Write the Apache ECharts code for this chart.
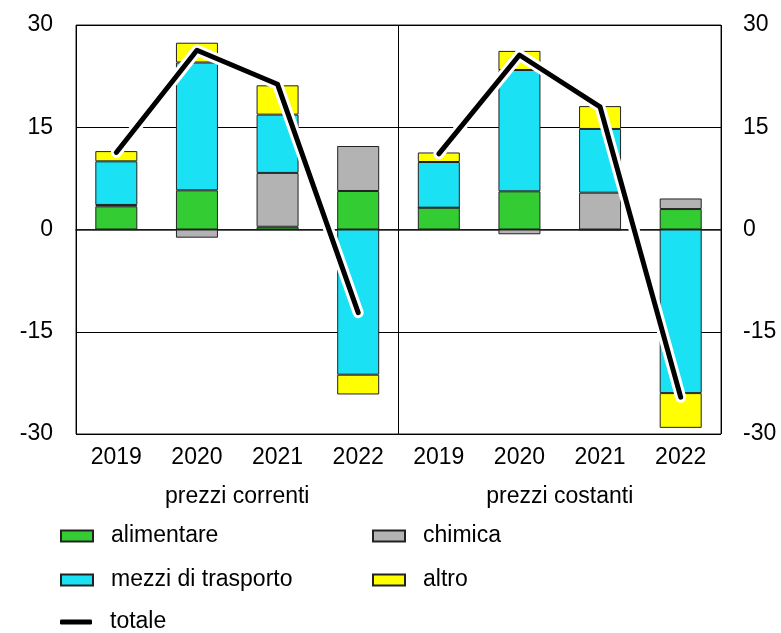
<!DOCTYPE html>
<html>
<head>
<meta charset="utf-8">
<script src="https://cdn.jsdelivr.net/npm/echarts@6/dist/echarts.min.js"></script>
<style>
  html, body { margin: 0; padding: 0; background: #fff; }
  #mainChart { width: 781px; height: 633px; }
</style>
</head>
<body>
<div id="mainChart"></div>
<script>
  // anni per ciascun pannello
  var years = ['2019', '2020', '2021', '2022'];
  var panels = ['prezzi correnti', 'prezzi costanti'];
  var yTicks = [-30, -15, 0, 15, 30];

  // prezzi correnti
  var alimCorrenti = [3.4, 5.75, 0.4, 5.65];
  var chimCorrenti = [0.2, -1.2, 7.9, 6.6];
  var mezziCorrenti = [6.4, 18.75, 8.55, -21.3];
  var altroCorrenti = [1.5, 2.9, 4.3, -2.9];
  var totCorrenti = [11.3, 26.3, 21.3, -12.2];

  // prezzi costanti
  var alimCostanti = [3.2, 5.6, -0.1, 3.0];
  var chimCostanti = [0, -0.7, 5.4, 1.55];
  var mezziCostanti = [6.7, 17.8, 9.35, -24.0];
  var altroCostanti = [1.4, 2.8, 3.35, -5.1];
  var totCostanti = [11.1, 25.6, 18.0, -24.6];

  var font = 'Liberation Sans, Arial, sans-serif';
  var fs = 23;
  var gap = ['-', '-', '-', '-'];
  var legendText = { fontFamily: font, fontSize: fs, color: '#000', lineHeight: 24, padding: [0, 0, 0, 13] };

  function barSeries(name, color, a, b) {
    return {
      name: name,
      type: 'bar',
      stack: 'tot',
      barWidth: 42,
      itemStyle: { color: color, borderColor: '#222', borderWidth: 1 },
      data: a.concat(b)
    };
  }

  function lineSeries(name, color, width, data) {
    return {
      name: name,
      type: 'line',
      symbol: 'none',
      silent: true,
      lineStyle: { color: color, width: width, cap: 'round', join: 'round' },
      itemStyle: { color: color },
      data: data
    };
  }

  var options = {
    animation: false,
    grid: { left: 76, right: 60, top: 25, height: 409, show: true, borderColor: '#222', borderWidth: 1 },
    legend: [{
      orient: 'vertical', left: 60, top: 524, padding: 0, icon: 'rect',
      itemWidth: 32, itemHeight: 11, itemGap: 20,
      data: ['alimentare', 'mezzi di trasporto'],
      textStyle: legendText
    }, {
      orient: 'vertical', left: 372, top: 524, padding: 0, icon: 'rect',
      itemWidth: 32, itemHeight: 11, itemGap: 20,
      data: ['chimica', 'altro'],
      textStyle: legendText
    }, {
      orient: 'vertical', left: 60, top: 610, padding: 0,
      itemWidth: 32, itemHeight: 5,
      data: [{ name: 'totale', icon: 'roundRect' }],
      textStyle: legendText
    }],
    xAxis: [{
      type: 'category',
      data: years.concat(years),
      axisLine: { lineStyle: { color: '#222', width: 1.5 } },
      axisTick: { show: false },
      axisLabel: { interval: 0, margin: 12, fontFamily: font, fontSize: fs, color: '#000' }
    }, {
      type: 'category',
      position: 'bottom',
      data: panels,
      axisLine: { show: false },
      axisTick: { show: true, length: 72, lineStyle: { color: '#000', width: 1 } },
      axisLabel: { interval: 0, margin: 51, fontFamily: font, fontSize: fs, color: '#000' },
      splitLine: { show: true, lineStyle: { color: '#000', width: 1 } }
    }],
    yAxis: [{
      type: 'value',
      min: yTicks[0], max: yTicks[yTicks.length - 1], interval: 15,
      axisLine: { show: false },
      axisTick: { show: false },
      axisLabel: { margin: 23, fontFamily: font, fontSize: fs, color: '#000' },
      splitLine: { lineStyle: { color: '#000', width: 1 } }
    }, {
      type: 'value',
      min: yTicks[0], max: yTicks[yTicks.length - 1], interval: 15,
      axisLine: { show: false },
      axisTick: { show: false },
      axisLabel: { margin: 22, fontFamily: font, fontSize: fs, color: '#000' },
      splitLine: { show: false }
    }],
    series: [
      barSeries('alimentare', '#33cc33', alimCorrenti, alimCostanti),
      barSeries('chimica', '#b3b3b3', chimCorrenti, chimCostanti),
      barSeries('mezzi di trasporto', '#1be1f5', mezziCorrenti, mezziCostanti),
      barSeries('altro', '#ffff00', altroCorrenti, altroCostanti),
      lineSeries('bordo1', '#fff', 11, totCorrenti.concat(gap)),
      lineSeries('bordo2', '#fff', 11, gap.concat(totCostanti)),
      lineSeries('totale', '#000', 5, totCorrenti.concat(gap)),
      lineSeries('totale', '#000', 5, gap.concat(totCostanti))
    ]
  };

  var mainChart = echarts.init(document.getElementById('mainChart'));
  mainChart.setOption(options);
</script>
</body>
</html>
